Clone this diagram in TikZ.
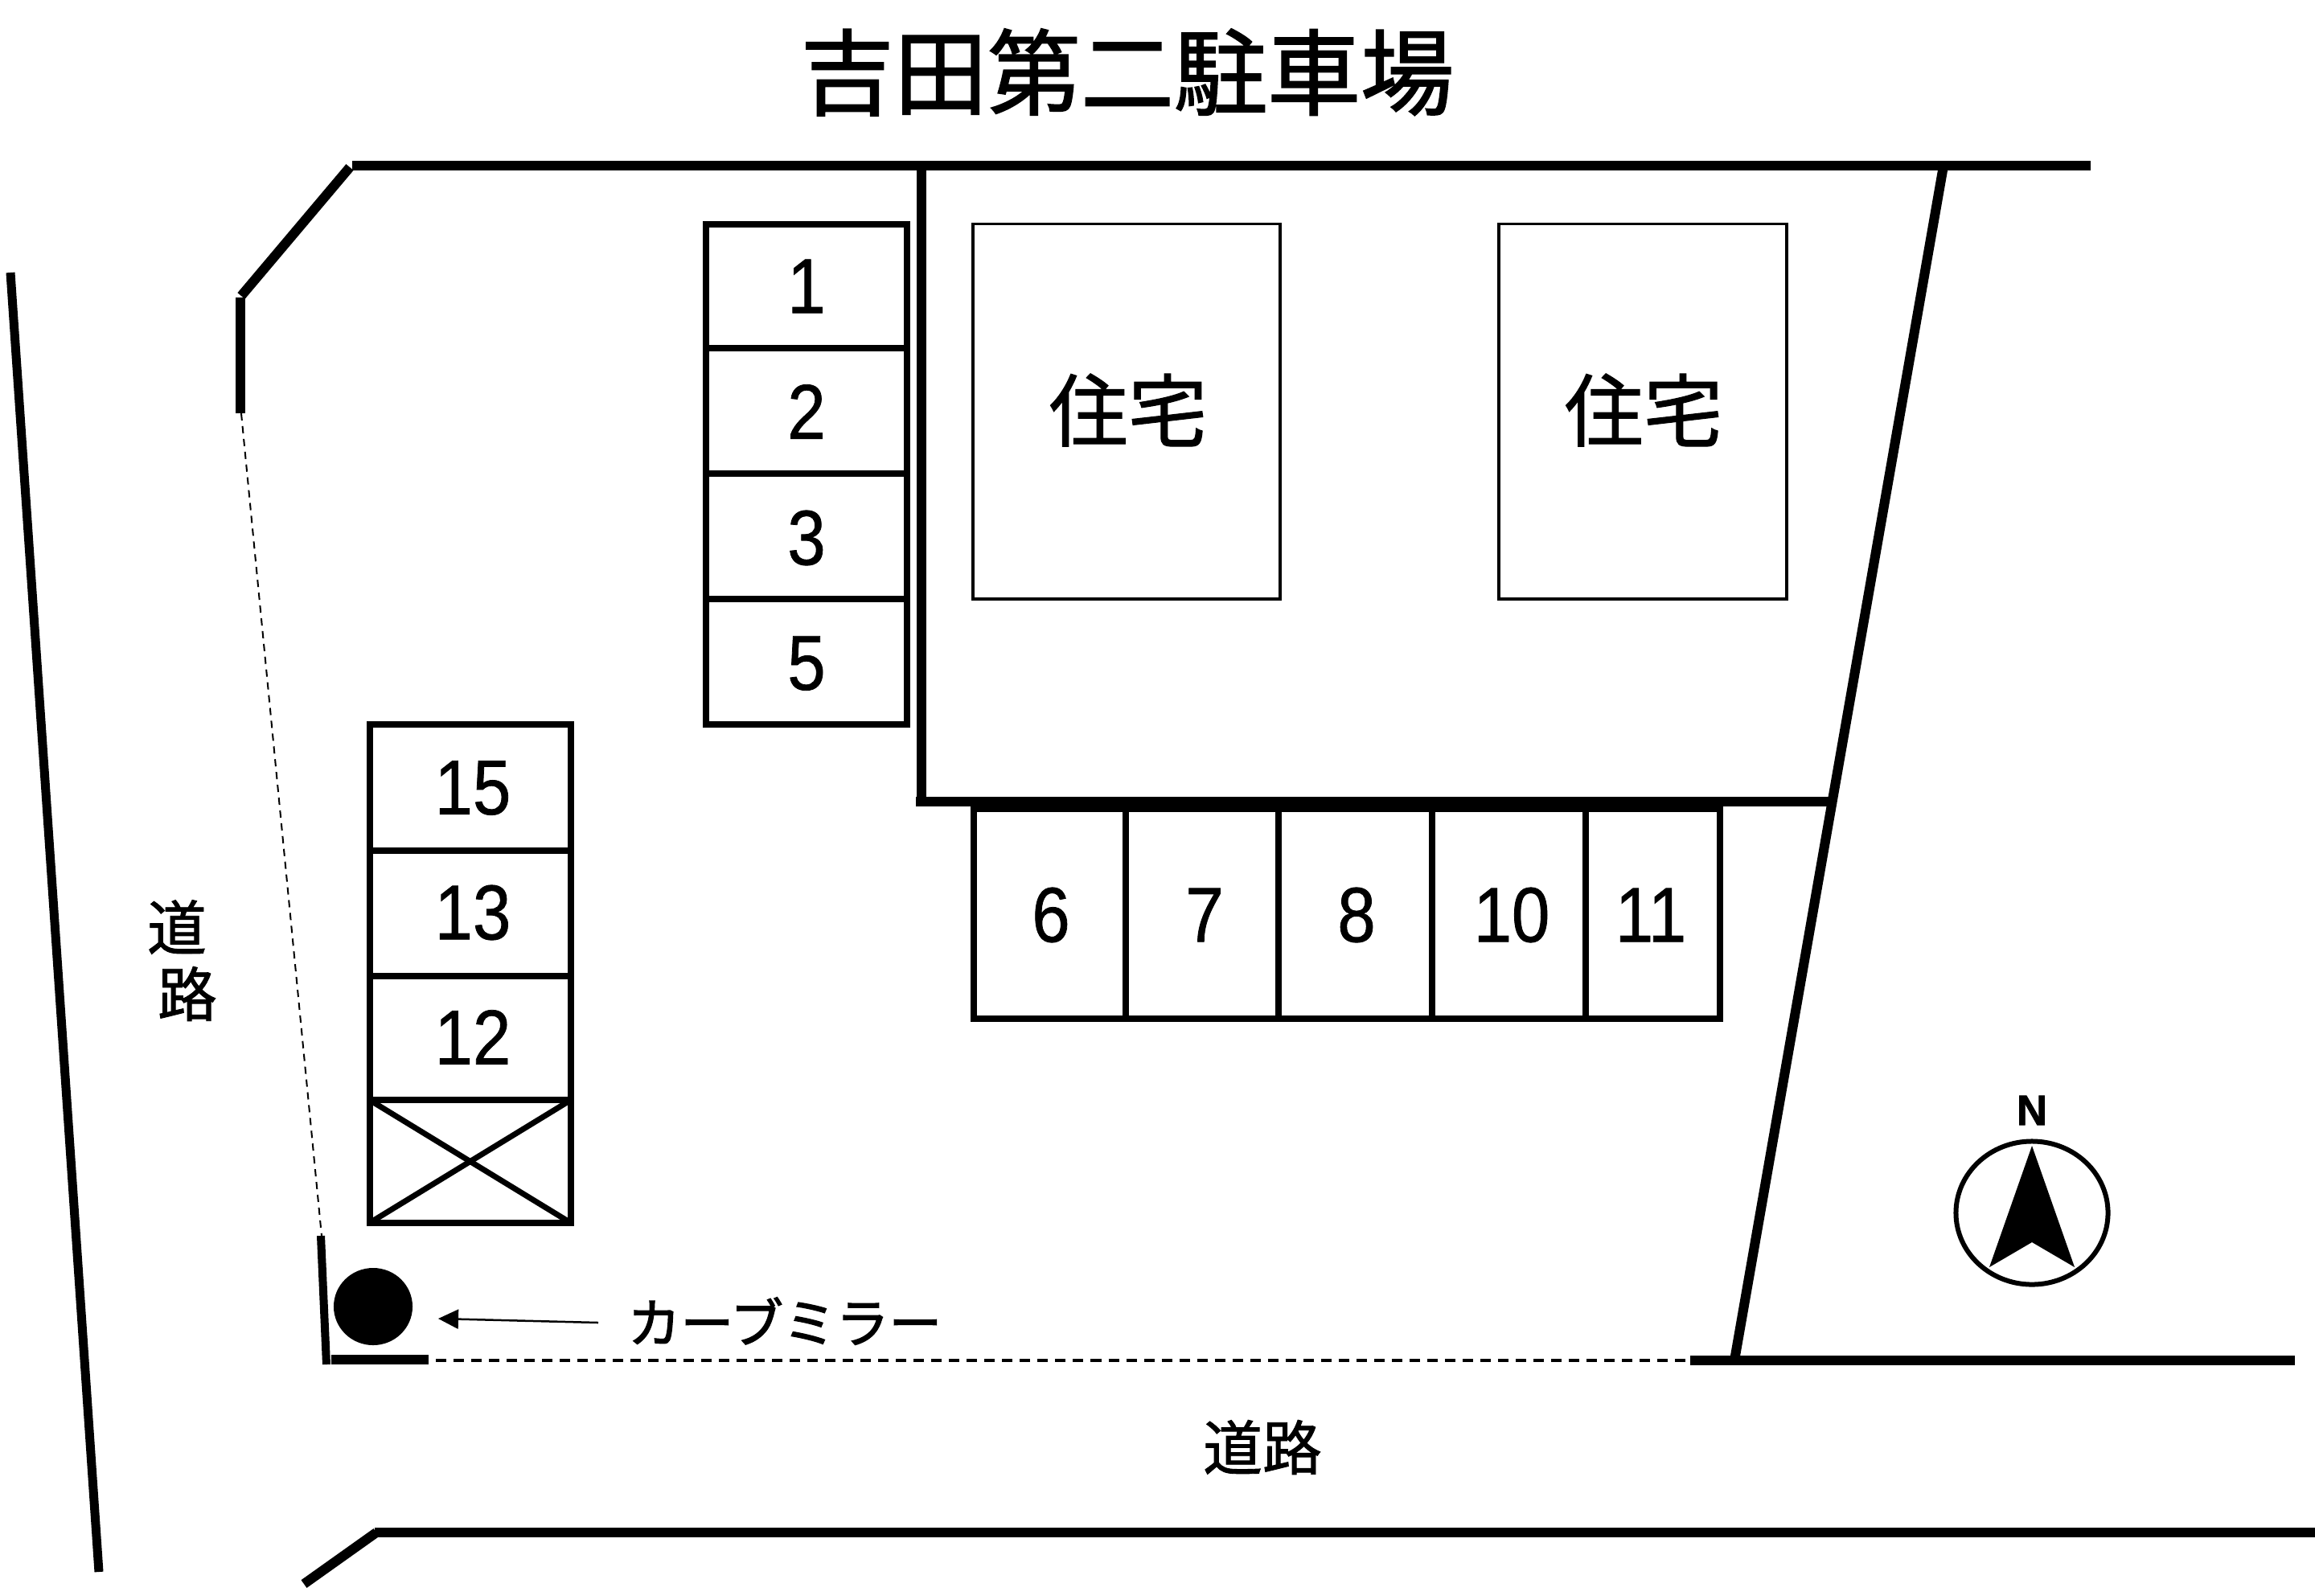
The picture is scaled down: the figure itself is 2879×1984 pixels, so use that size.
\documentclass[tikz,border=0pt]{standalone}
\usepackage{fontspec}
\usetikzlibrary{arrows.meta,shapes.geometric}
\setmainfont{Liberation Sans}
\newfontfamily\cjk[FakeBold=1.2]{Noto Sans CJK JP}
\newfontfamily\cjkb[FakeBold=1.6]{Noto Sans CJK JP}
\newfontfamily\cjkm[FakeBold=2]{Noto Sans CJK JP}
\newfontfamily\digf[FakeStretch=0.88,FakeBold=0.8]{Liberation Sans}
\newfontfamily\northf[FakeBold=1.5]{Liberation Sans Bold}
\tikzset{
  wall/.style={line width=0.12cm,line cap=butt},
  slot/.style={draw,line width=0.08cm},
  house/.style={draw,line width=0.035cm},
  num/.style={inner sep=0pt,font=\digf\fontsize{27.5}{27.5}\selectfont},
  lab/.style={inner sep=0pt,font=\cjk\fontsize{21}{21}\selectfont},
  houselab/.style={inner sep=0pt,font=\cjk\fontsize{28}{28}\selectfont},
  dash line/.style={line width=0.04cm,dash pattern=on 0.13cm off 0.09cm},
}
\begin{document}
\begin{tikzpicture}[x=0.01cm,y=-0.01cm]
\useasboundingbox (0,0) rectangle (2879,1984);
\fill[white] (0,0) rectangle (2879,1984);
% title
\node[inner sep=0pt,font=\cjkb\fontsize{33}{33}\selectfont] (title) at (1402,90) {吉田第二駐車場};
% boundary walls
\draw[wall] (438,206) -- (2600,206);
\draw[wall] (435,208) -- (300,368);
\draw[wall] (299,370) -- (299,514);
\draw[line width=0.02cm,dash pattern=on 0.09cm off 0.07cm] (300,514) -- (400,1537);
\draw[line width=0.1cm] (399,1537) -- (406,1697);
\draw[wall] (412,1691) -- (533,1691);
\draw[dash line] (542,1692) -- (2102,1692);
\draw[wall] (1145.5,206) -- (1145.5,1003);
\draw[wall] (1139,997) -- (2276,997);
\draw[wall] (2417,206) -- (2157,1692);
\draw[wall] (2102,1692) -- (2854,1692);
% roads
\draw[line width=0.11cm] (13,339) -- (123,1955);
\draw[wall] (378,1970) -- (468,1906);
\draw[wall] (466,1906) -- (2879,1906);
% houses
\draw[house] (1210,278.6) rectangle (1592,745);
\draw[house] (1864,278.6) rectangle (2222,745);
\node[houselab] (h1t) at (1403,510) {住宅};
\node[houselab] (h2t) at (2044,510) {住宅};
% slots column 1
\draw[slot] (877.5,278.6) rectangle (1127.5,432.8);
\draw[slot] (877.5,432.8) rectangle (1127.5,589);
\draw[slot] (877.5,589) rectangle (1127.5,745);
\draw[slot] (877.5,745) rectangle (1127.5,901);
\node[num] (s1) at (1003,356) {1};
\node[num] (s2) at (1003,512) {2};
\node[num] (s3) at (1003,669) {3};
\node[num] (s5) at (1003,825) {5};
% slots column 2
\draw[slot] (459.5,901) rectangle (710,1057.6);
\draw[slot] (459.5,1057.6) rectangle (710,1214);
\draw[slot] (459.5,1214) rectangle (710,1368);
\draw[slot] (459.5,1368) rectangle (710,1521);
\draw[line width=0.07cm] (459.5,1368) -- (710,1521);
\draw[line width=0.07cm] (710,1368) -- (459.5,1521);
\node[num] (s15) at (588,980) {15};
\node[num] (s13) at (588,1135) {13};
\node[num] (s12) at (588,1290) {12};
% slots row
\draw[slot] (1211,1006) rectangle (1400,1266.6);
\draw[slot] (1400,1006) rectangle (1590,1266.6);
\draw[slot] (1590,1006) rectangle (1781,1266.6);
\draw[slot] (1781,1006) rectangle (1972,1266.6);
\draw[slot] (1972,1006) rectangle (2139,1266.6);
\node[num] (s6) at (1307,1138) {6};
\node[num] (s7) at (1498,1138) {7};
\node[num] (s8) at (1687,1138) {8};
\node[num] (s10) at (1880,1138) {10};
\node[num] (s11) at (2053,1138) {11};
% road labels
\node[lab] (r1) at (220,1153) {道};
\node[lab] (r2) at (233,1236) {路};
\node[lab] (r3) at (1570,1800) {道路};
% mirror
\node[ellipse,fill=black,minimum width=0.98cm,minimum height=0.96cm,inner sep=0pt] (mirror) at (464,1625) {};
\node[inner sep=0pt,font=\cjkm\fontsize{18.7}{18.7}\selectfont] (mlab) at (976,1643) {カーブミラー};
\draw[line width=0.025cm,-{Triangle[length=0.25cm,width=0.24cm]}] (744,1645) -- (545,1640);
% compass
\draw[line width=0.06cm] (2527,1508.5) ellipse (0.945cm and 0.89cm);
\fill (2527,1425) -- (2474,1576) -- (2527,1545) -- (2580,1576) -- cycle;
\node[inner sep=0pt,font=\northf\fontsize{15}{15}\selectfont] (north) at (2527,1381) {N};
\end{tikzpicture}
\end{document}
